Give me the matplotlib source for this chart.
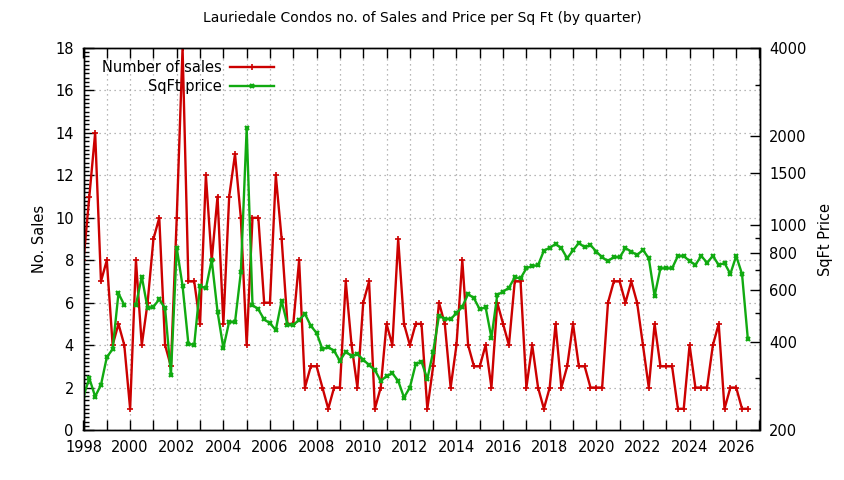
import numpy as np
import matplotlib
matplotlib.use("Agg")
import matplotlib.pyplot as plt
from matplotlib.ticker import FixedLocator, FixedFormatter, MultipleLocator, NullFormatter

# quarterly data, first quarter of 1998 to Q3 2026
start_year = 1998
sales = [8, 11, 14, 7,  8, 4, 5, 4,  1, 8, 4, 6,  9, 10, 4, 3,
         10, 18, 7, 7,  5, 12, 8, 11,  5, 11, 13, 10,  4, 10, 10, 6,
         6, 12, 9, 5,  5, 8, 2, 3,  3, 2, 1, 2,  2, 7, 4, 2,
         6, 7, 1, 2,  5, 4, 9, 5,  4, 5, 5, 1,  3, 6, 5, 2,
         4, 8, 4, 3,  3, 4, 2, 6,  5, 4, 7, 7,  2, 4, 2, 1,
         2, 5, 2, 3,  5, 3, 3, 2,  2, 2, 6, 7,  7, 6, 7, 6,
         4, 2, 5, 3,  3, 3, 1, 1,  4, 2, 2, 2,  4, 5, 1, 2,
         2, 1, 1]
sqft_price = [261, 300, 260, 285,  354, 377, 584, 533,  np.nan, 533, 666, 519,
              526, 557, 519, 308,  835, 619, 393, 390,  619, 607, 759, 506,
              380, 468, 466, 689,  2130, 533, 515, 476,  462, 438, 551, 456,
              456, 474, 497, 453,  428, 377, 383, 372,  344, 370, 357, 363,
              347, 333, 320, 294,  305, 312, 294, 258,  279, 335, 342, 298,
              370, 490, 478, 478,  499, 526, 581, 562,  515, 524, 412, 577,
              592, 610, 662, 657,  711, 724, 728, 816,  835, 860, 832, 769,
              818, 867, 838, 853,  810, 775, 752, 777,  775, 833, 810, 789,
              821, 769, 572, 711,  711, 711, 783, 783,  752, 730, 783, 743,
              783, 730, 740, 680,  783, 680, 408]
quarters = start_year + np.arange(len(sales)) * 0.25

year_ticks = list(range(1998, 2028))
year_labels = [str(y) if y % 2 == 0 else "" for y in year_ticks]
price_ticks = [200, 400, 600, 800, 1000, 1500, 2000, 4000]
price_minor = [300, 500, 700, 900, 3000]

plt.rcParams["font.family"] = "DejaVu Sans"
plt.rcParams["font.size"] = 10

fig = plt.figure(figsize=(8.44, 4.8), dpi=100)
ax = fig.add_axes([83.5 / 844, 1 - 430 / 480, (759.5 - 83.5) / 844, 382 / 480])
ax2 = ax.twinx()

red = "#cc0000"
green = "#11aa11"

l1, = ax.plot(quarters, sales, color=red, lw=1.7, marker="+", ms=4, mew=1.2,
              label="Number of sales")
l2, = ax2.plot(quarters, sqft_price, color=green, lw=1.7, marker="x", ms=3.5,
               mew=1.6, label="SqFt price")

ax.set_xlim(1998, 2027)
ax.set_ylim(0, 18)
ax.yaxis.set_major_locator(MultipleLocator(2))
ax.yaxis.set_minor_locator(MultipleLocator(0.2))
ax.xaxis.set_major_locator(FixedLocator(year_ticks))
ax.xaxis.set_major_formatter(FixedFormatter(year_labels))

ax2.set_yscale("log")
ax2.set_ylim(200, 4000)
ax2.yaxis.set_major_locator(FixedLocator(price_ticks))
ax2.yaxis.set_major_formatter(FixedFormatter([str(p) for p in price_ticks]))
ax2.yaxis.set_minor_locator(FixedLocator(price_minor))
ax2.yaxis.set_minor_formatter(NullFormatter())

ax.tick_params(axis="x", which="major", direction="in", length=7, width=1,
               top=True, pad=7, labelsize=10.5)
ax.tick_params(axis="y", which="major", direction="in", length=7, width=1,
               pad=7, labelsize=10.5)
ax.tick_params(axis="y", which="minor", direction="in", length=3.5, width=1)
ax2.tick_params(axis="y", which="major", direction="in", length=7, width=1,
                pad=7, labelsize=10.5)
ax2.tick_params(axis="y", which="minor", direction="in", length=3.5, width=1)

ax.grid(True, which="major", color="#a0a0a0", linestyle=(0, (1, 3)), lw=0.9)
ax.set_axisbelow(True)

for a in (ax, ax2):
    for s in a.spines.values():
        s.set_linewidth(1.0)
        s.set_color("black")

ax.set_ylabel("No. Sales", fontsize=10.5, labelpad=6)
ax2.set_ylabel("SqFt Price", fontsize=10.5, labelpad=8)
fig.suptitle("Lauriedale Condos no. of Sales and Price per Sq Ft (by quarter)",
             y=1 - 18 / 480, va="center", fontsize=10)

ax2.legend([l1, l2], ["Number of sales", "SqFt price"], loc="upper right",
           bbox_to_anchor=(0.297, 0.995), frameon=False, markerfirst=False,
           handlelength=3.0, handletextpad=0.6, borderpad=0.2, labelspacing=0.3,
           fontsize=10.5)

fig.savefig("out.png", dpi=100)
